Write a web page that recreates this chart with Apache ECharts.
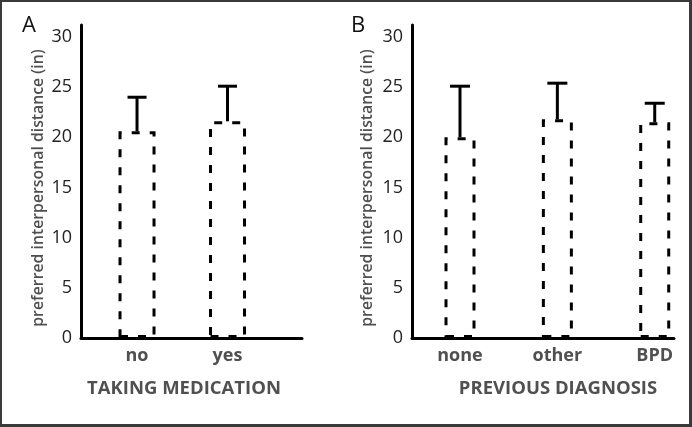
<!DOCTYPE html>
<html><head><meta charset="utf-8">
<script src="https://cdn.jsdelivr.net/npm/echarts@6/dist/echarts.min.js"></script>
<style>html,body{margin:0;padding:0;background:#fff}#c{width:692px;height:427px;position:relative}
#frame{position:absolute;left:0;top:0;width:692px;height:427px;box-sizing:border-box;border:2px solid #3a3a3a;border-right-width:3px;border-bottom-width:3px;pointer-events:none}</style>
</head><body>
<div style="position:relative;width:692px;height:427px"><div id="c"></div><div id="frame"></div></div>
<script>
// ---- data ----
const panelACategories = ['no', 'yes'];
const panelAMeans = [20.6, 21.6];
const panelAUpper = [24.0, 25.1];
const panelBCategories = ['none', 'other', 'BPD'];
const panelBMeans = [20.0, 21.8, 21.5];
const panelBUpper = [25.1, 25.4, 23.4];
const yTickLabels = [0, 5, 10, 15, 20, 25, 30];
const yAxisTitle = 'preferred interpersonal distance (in)';
const xTitleA = 'TAKING MEDICATION';
const xTitleB = 'PREVIOUS DIAGNOSIS';

const FONT = '"Open Sans", sans-serif';
const chart = echarts.init(document.getElementById('c'), null, {renderer: 'canvas'});

function xAxisFor(idx, cats, min, max) {
  return {
    type: 'value', gridIndex: idx, min: min, max: max,
    axisLine: {show: true, onZero: true, lineStyle: {color: '#000', width: 3}},
    axisTick: {show: false}, splitLine: {show: false},
    axisLabel: {customValues: cats.map((_, i) => i), formatter: v => cats[Math.round(v)] || '',
      color: '#505050', fontFamily: FONT, fontSize: 18, fontWeight: 700, margin: 9}
  };
}
function yAxisFor(idx) {
  return {
    type: 'value', gridIndex: idx, min: 0, max: 31.2, interval: 5,
    axisLine: {show: true, onZero: false, lineStyle: {color: '#000', width: 3}},
    axisTick: {show: false}, splitLine: {show: false},
    axisLabel: {customValues: yTickLabels, color: '#222', fontFamily: FONT, fontSize: 18, margin: 9}
  };
}
function barSeries(idx, means, width) {
  return {
    type: 'bar', xAxisIndex: idx, yAxisIndex: idx, barWidth: width,
    data: means.map((m, i) => [i, m]),
    itemStyle: {color: 'rgba(0,0,0,0)', borderColor: '#000', borderWidth: 3, borderType: [8, 10]},
    silent: true, z: 2
  };
}
function errSeries(idx, means, upper, capW) {
  return {
    type: 'custom', xAxisIndex: idx, yAxisIndex: idx, z: 5, silent: true,
    data: means.map((m, i) => [i, m, upper[i]]),
    renderItem: function (params, api) {
      const lo = api.coord([api.value(0), api.value(1)]);
      const hi = api.coord([api.value(0), api.value(2)]);
      const st = {stroke: '#000', lineWidth: 3};
      return {type: 'group', children: [
        {type: 'line', shape: {x1: lo[0], y1: lo[1], x2: hi[0], y2: hi[1]}, style: st},
        {type: 'line', shape: {x1: hi[0] - capW / 2, y1: hi[1], x2: hi[0] + capW / 2, y2: hi[1]}, style: st}
      ]};
    }
  };
}

chart.setOption({
  backgroundColor: '#fff',
  animation: false,
  grid: [
    {left: 81, top: 25, width: 221, height: 313},
    {left: 412, top: 25, width: 262, height: 313}
  ],
  xAxis: [
    xAxisFor(0, panelACategories, -0.619, 1.823),
    xAxisFor(1, panelBCategories, -0.493, 2.198)
  ],
  yAxis: [yAxisFor(0), yAxisFor(1)],
  title: [
    {text: 'A', left: 17, top: 10, textStyle: {fontFamily: FONT, fontSize: 22, fontWeight: 'normal', color: '#111'}},
    {text: 'B', left: 346, top: 10, textStyle: {fontFamily: FONT, fontSize: 22, fontWeight: 'normal', color: '#111'}},
    {text: xTitleA, left: 179, top: 374, textAlign: 'center', textStyle: {fontFamily: FONT, fontSize: 18.5, fontWeight: 700, color: '#505050'}},
    {text: xTitleB, left: 553, top: 374, textAlign: 'center', textStyle: {fontFamily: FONT, fontSize: 18.5, fontWeight: 700, color: '#505050'}}
  ],
  graphic: [
    {type: 'text', x: 38, y: 188, rotation: Math.PI / 2,
     style: {text: yAxisTitle, fill: '#505050', font: '600 15.8px ' + FONT, textAlign: 'center', textVerticalAlign: 'middle'}},
    {type: 'text', x: 367, y: 188, rotation: Math.PI / 2,
     style: {text: yAxisTitle, fill: '#505050', font: '600 15.8px ' + FONT, textAlign: 'center', textVerticalAlign: 'middle'}}
  ],
  series: [
    barSeries(0, panelAMeans, 37),
    errSeries(0, panelAMeans, panelAUpper, 19),
    barSeries(1, panelBMeans, 31),
    errSeries(1, panelBMeans, panelBUpper, 20)
  ]
});
</script>
</body></html>
